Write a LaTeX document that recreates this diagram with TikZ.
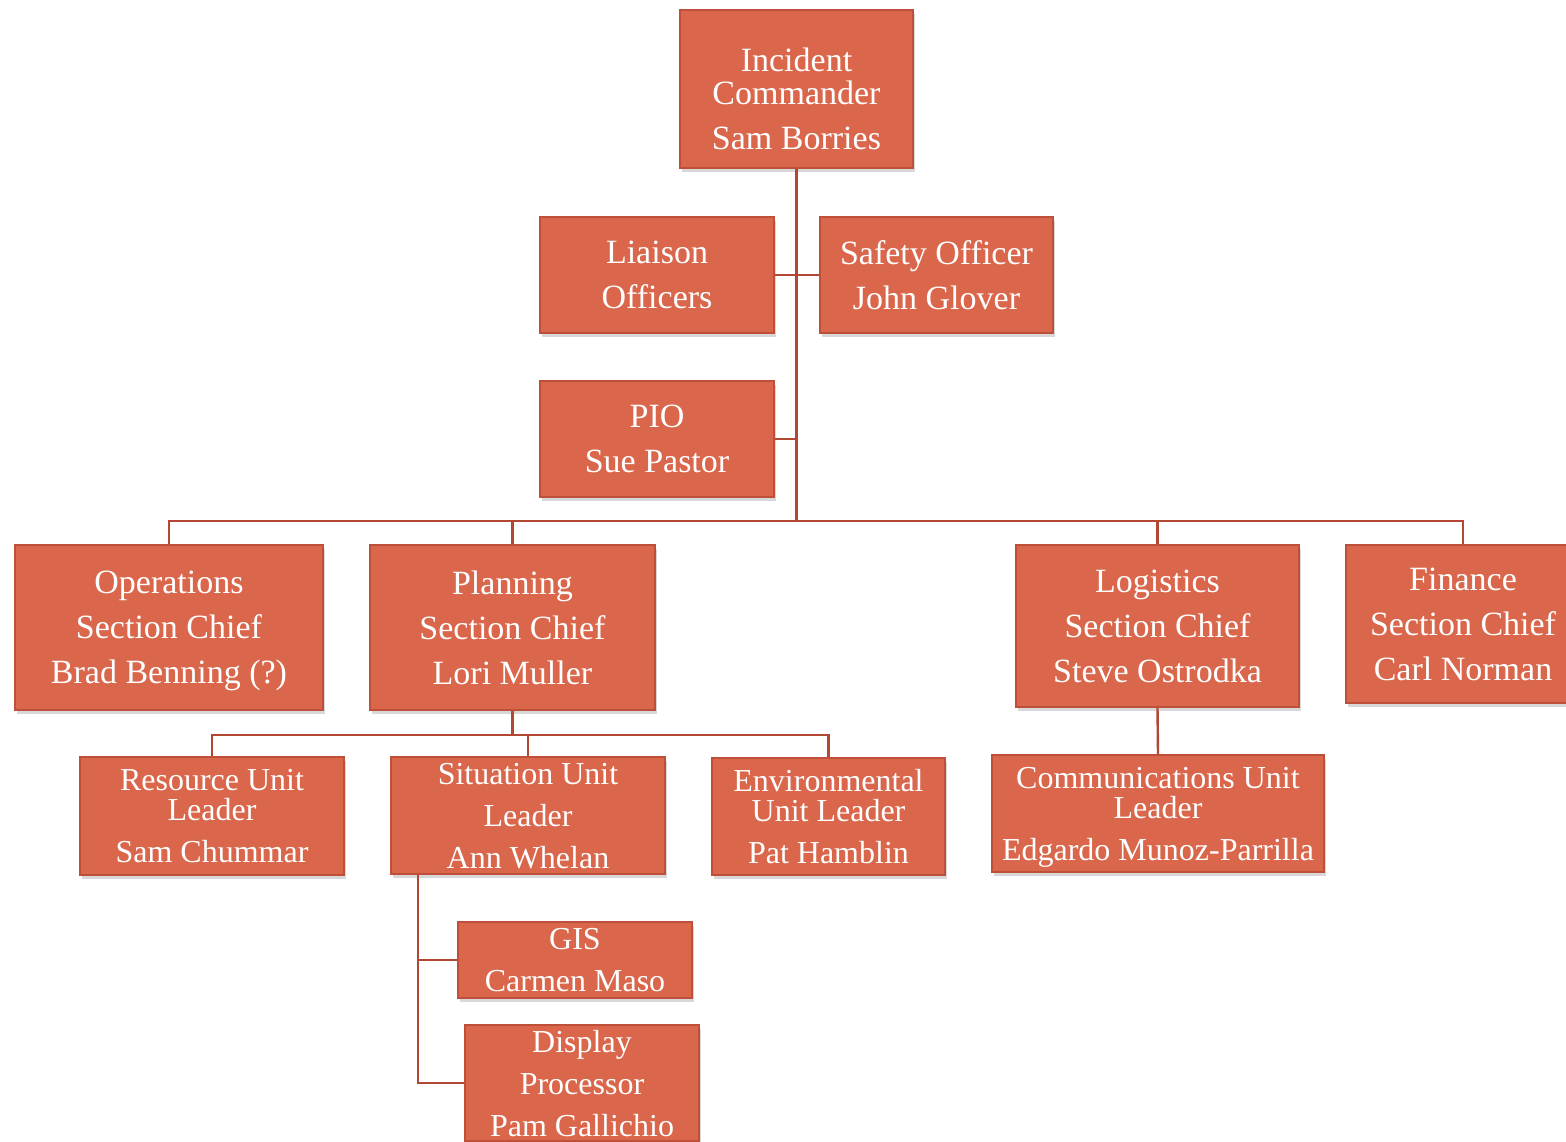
\documentclass[tikz,border=0pt]{standalone}
\usepackage{fontspec}
\setmainfont{Liberation Serif}
\usetikzlibrary{shadows,calc}
\definecolor{icsfill}{RGB}{218,102,75}
\definecolor{icsedge}{RGB}{190,80,58}
\definecolor{icsline}{RGB}{178,72,52}

\begin{document}
\begin{tikzpicture}[x=1pt, y=-1pt,
    box/.style={draw=icsedge, line width=1.5pt, fill=icsfill, text=white, align=center, inner sep=0pt,
        text depth=0pt, drop shadow={shadow xshift=1.5pt, shadow yshift=-4pt, opacity=0.3}},
    chief/.style={box, font=\fontsize{34}{33}\selectfont},
    unit/.style={box, font=\fontsize{32}{30}\selectfont},
    link/.style={draw=icsline, line width=2.4pt}
]

% Page
\fill[white] (0,0) rectangle (1566,1141);
\useasboundingbox (0,0) rectangle (1566,1141);

% Command
\node[chief, minimum width=233pt, minimum height=158pt] (ic) at (796.5,89) {\rule{0pt}{43pt}Incident\\Commander\\[12pt]Sam Borries};

% Command staff
\node[chief, minimum width=234pt, minimum height=116pt] (liaison) at (657,275) {Liaison\\[12pt]Officers};
\node[chief, minimum width=233pt, minimum height=116pt] (safety) at (936.5,275) {Safety Officer\\[12pt]John Glover};
\node[chief, minimum width=234pt, minimum height=116pt] (pio) at (657,439) {PIO\\[12pt]Sue Pastor};

% Sections
\node[chief, minimum width=308pt, minimum height=165pt] (ops) at (169,627.5) {Operations\\[12pt]Section Chief\\[12pt]Brad Benning (?)};
\node[chief, minimum width=285pt, minimum height=165pt] (plan) at (512.5,627.5) {Planning\\[12pt]Section Chief\\[12pt]Lori Muller};
\node[chief, minimum width=283pt, minimum height=162pt] (logi) at (1157.5,626) {Logistics\\[12pt]Section Chief\\[12pt]Steve Ostrodka};
\node[chief, minimum width=234pt, minimum height=158pt] (fin) at (1463,624) {Finance\\[12pt]Section Chief\\[12pt]Carl Norman};

% Units
\node[unit, minimum width=264pt, minimum height=118pt] (res) at (212,816) {Resource Unit\\Leader\\[12pt]Sam Chummar};
\node[unit, minimum width=274pt, minimum height=117pt] (sit) at (528,815.5) {Situation Unit\\[12pt]Leader\\[12pt]Ann Whelan};
\node[unit, minimum width=233pt, minimum height=117pt] (env) at (828.5,816.5) {Environmental\\Unit Leader\\[12pt]Pat Hamblin};
\node[unit, minimum width=332pt, minimum height=117pt] (comm) at (1158,813.5) {Communications Unit\\Leader\\[12pt]Edgardo Munoz-Parrilla};
\node[unit, minimum width=234pt, minimum height=76pt] (gis) at (575,960) {GIS\\[12pt]Carmen Maso};
\node[unit, minimum width=234pt, minimum height=116pt] (disp) at (582,1083) {Display\\[12pt]Processor\\[12pt]Pam Gallichio};

% Connectors
\coordinate (bus) at (796.5,521);
\coordinate (pbus) at (512.5,735);
\coordinate (sitleg) at ([xshift=28pt]sit.south west);

\draw[link] (ic.south) -- (bus);
\draw[link] (liaison.east) -- (liaison.east -| ic.south);
\draw[link] (safety.west) -- (safety.west -| ic.south);
\draw[link] (pio.east) -- (pio.east -| ic.south);
\draw[link] (ops.north) |- (bus) -| (fin.north);
\draw[link] (plan.north) -- (plan.north |- bus);
\draw[link] (logi.north) -- (logi.north |- bus);
\draw[link] (plan.south) -- (pbus);
\draw[link] (res.north) |- (pbus) -| (env.north);
\draw[link] (sit.north) -- (sit.north |- pbus);
\draw[link] (logi.south) -- (comm.north);
\draw[link] (sitleg) |- (gis.west);
\draw[link] (sitleg) |- (disp.west);

\end{tikzpicture}
\end{document}
